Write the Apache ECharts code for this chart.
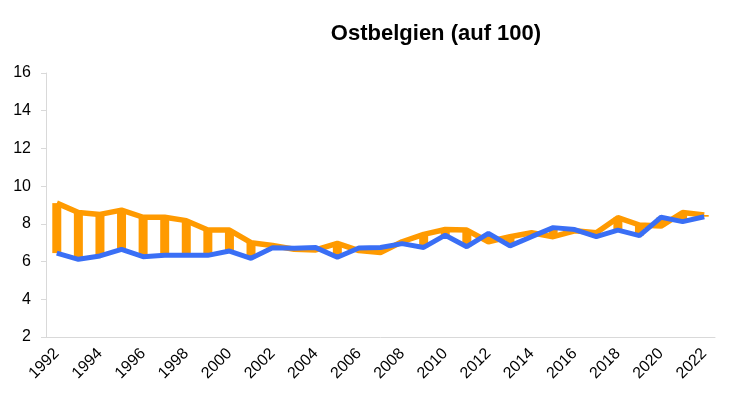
<!DOCTYPE html>
<html>
<head>
<meta charset="utf-8">
<script src="https://cdn.jsdelivr.net/npm/echarts@6/dist/echarts.min.js"></script>
<style>
  html, body { margin: 0; padding: 0; background: #fff; }
  #chart { width: 730px; height: 400px; }
</style>
</head>
<body>
<div id="chart"></div>
<script>
// Jahre
var years = ['1992','1993','1994','1995','1996','1997','1998','1999','2000','2001',
             '2002','2003','2004','2005','2006','2007','2008','2009','2010','2011',
             '2012','2013','2014','2015','2016','2017','2018','2019','2020','2021','2022'];
// orange Reihe
var orangeVals = [9.1, 8.6, 8.5, 8.73, 8.35, 8.35, 8.17, 7.67, 7.67, 7.0,
                  6.85, 6.65, 6.62, 6.97, 6.58, 6.48, 7.05, 7.44, 7.7, 7.67,
                  7.05, 7.32, 7.53, 7.32, 7.63, 7.53, 8.33, 7.94, 7.88, 8.6, 8.47];
// blaue Reihe
var blueVals = [6.45, 6.12, 6.3, 6.65, 6.26, 6.33, 6.33, 6.33, 6.56, 6.17,
                6.73, 6.7, 6.74, 6.23, 6.72, 6.75, 6.95, 6.75, 7.4, 6.79,
                7.5, 6.83, 7.32, 7.8, 7.7, 7.32, 7.67, 7.38, 8.35, 8.12, 8.38];

var ORANGE = '#ff9a00';
var BLUE = '#3a6ff5';
var FONT = 'Liberation Sans, Arial, sans-serif';

// Balken zwischen den beiden Reihen
var barData = years.map(function (y, i) {
    return [i, orangeVals[i], blueVals[i]];
});

var chart = echarts.init(document.getElementById('chart'));
chart.setOption({
    animation: false,
    title: {
        text: 'Ostbelgien (auf 100)',
        left: 431,
        top: 18,
        textAlign: 'center',
        textStyle: {
            fontFamily: FONT,
            fontSize: 22,
            fontWeight: 'bold',
            color: '#000'
        }
    },
    grid: {
        left: 46,
        right: 15,
        top: 73,
        bottom: 63
    },
    xAxis: {
        type: 'category',
        data: years,
        boundaryGap: true,
        axisLine: { lineStyle: { color: '#d9d9d9', width: 1 } },
        axisTick: { interval: 0, length: 5, lineStyle: { color: '#d9d9d9' } },
        axisLabel: {
            interval: 1,
            rotate: 45,
            margin: 14,
            color: '#000',
            fontSize: 16,
            fontFamily: FONT
        }
    },
    yAxis: {
        type: 'value',
        min: 2,
        max: 16,
        interval: 2,
        axisLine: { show: true, lineStyle: { color: '#d9d9d9', width: 1 } },
        axisTick: { show: true, length: 5, lineStyle: { color: '#d9d9d9' } },
        splitLine: { show: false },
        axisLabel: {
            color: '#000',
            fontSize: 16,
            margin: 15,
            fontFamily: FONT
        }
    },
    series: [
        {
            name: 'bars',
            type: 'custom',
            z: 1,
            data: barData,
            renderItem: function (params, api) {
                var a = api.coord([api.value(0), api.value(1)]);
                var b = api.coord([api.value(0), api.value(2)]);
                var w = 9;
                return {
                    type: 'rect',
                    shape: {
                        x: a[0] - w / 2,
                        y: Math.min(a[1], b[1]),
                        width: w,
                        height: Math.abs(a[1] - b[1])
                    },
                    style: { fill: ORANGE }
                };
            }
        },
        {
            name: 'orange',
            type: 'line',
            z: 2,
            data: orangeVals,
            symbol: 'none',
            lineStyle: { color: ORANGE, width: 5.5 }
        },
        {
            name: 'blue',
            type: 'line',
            z: 3,
            data: blueVals,
            symbol: 'none',
            lineStyle: { color: BLUE, width: 5 }
        }
    ]
});
</script>
</body>
</html>
